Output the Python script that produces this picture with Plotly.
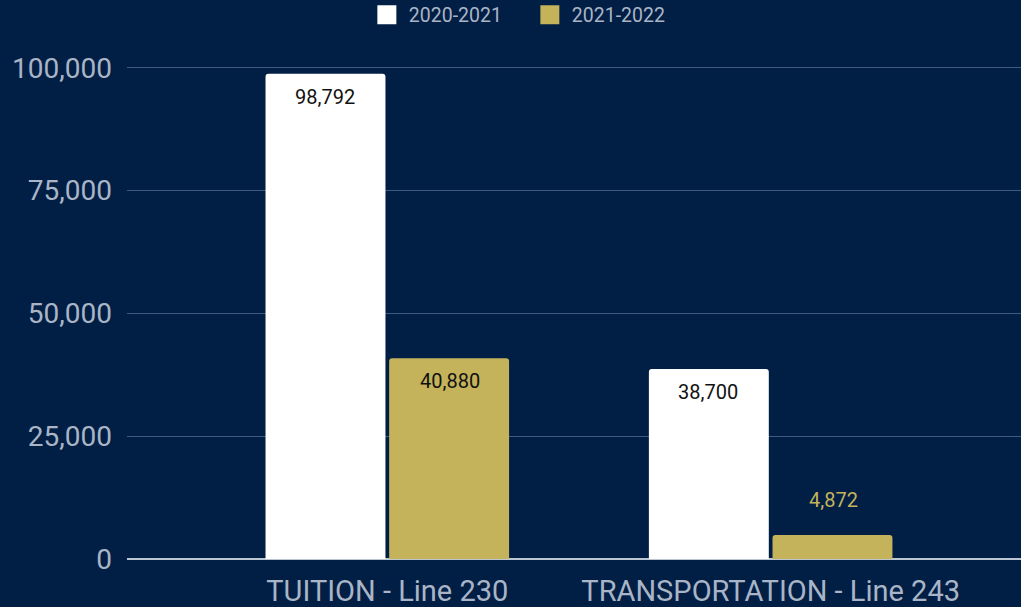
import plotly.graph_objects as go

categories = ["TUITION - Line 230", "TRANSPORTATION - Line 243"]
series_names = ["2020-2021", "2021-2022"]
values_2020 = [98792, 38700]
values_2021 = [40880, 4872]
y_ticks = [0, 25000, 50000, 75000, 100000]

BG = "#011e45"
GOLD = "#c4b35a"
WHITE = "#ffffff"
TICK = "#a9b5c6"
FONT = "Roboto"

fig = go.Figure()
for name, vals, col in [(series_names[0], values_2020, WHITE), (series_names[1], values_2021, GOLD)]:
    fig.add_trace(go.Bar(name=name, x=categories, y=vals, legendgroup=name, showlegend=False,
                         marker=dict(color=col, line=dict(width=0), cornerradius=3)))
    fig.add_trace(go.Scatter(name=name, x=[None], y=[None], mode="markers", legendgroup=name,
                             marker=dict(symbol="square", size=20, color=col,
                                         line=dict(color=col, width=3)), showlegend=True))

annotations = []
for vals, xs, col in [(values_2020, -62.5, WHITE), (values_2021, 62.5, GOLD)]:
    for c, v in zip(categories, vals):
        inside = v > 10000
        annotations.append(dict(
            x=c, y=v, xref="x", yref="y", text=f"{v:,}", showarrow=False,
            xshift=xs, yshift=-23 if inside else 35, yanchor="middle",
            font=dict(family=FONT, size=20, color="#111111" if inside else col),
        ))

fig.update_layout(
    width=1021, height=607,
    paper_bgcolor=BG, plot_bgcolor=BG,
    margin=dict(l=127, r=0, t=63, b=48),
    barmode="group", bargap=0.355, bargroupgap=0.03,
    font=dict(family=FONT, color=TICK),
    showlegend=True,
    legend=dict(orientation="h", xref="container", yref="container", x=0.517, xanchor="center",
                y=1 - 15 / 607, yanchor="middle", font=dict(family=FONT, size=19.5, color=TICK),
                itemsizing="trace", itemwidth=34, entrywidth=114, entrywidthmode="pixels",
                bgcolor="rgba(0,0,0,0)"),
    xaxis=dict(type="category", range=[-0.679, 1.653], showgrid=False, showline=False,
               ticks="", ticklabelstandoff=12, tickfont=dict(family=FONT, size=29, color=TICK)),
    yaxis=dict(range=[0, 101000], tickvals=y_ticks, tickformat=",", showgrid=True,
               gridcolor="#3f5a80", gridwidth=1, zeroline=True, zerolinecolor="#bcc6d3",
               zerolinewidth=2, showline=False, ticks="", ticklabelstandoff=14,
               tickfont=dict(family=FONT, size=28, color=TICK)),
    annotations=annotations,
)

fig.write_html("out.html", config={"displayModeBar": False},
               post_script="document.body.style.margin='0';document.body.style.background='#011e45';")
